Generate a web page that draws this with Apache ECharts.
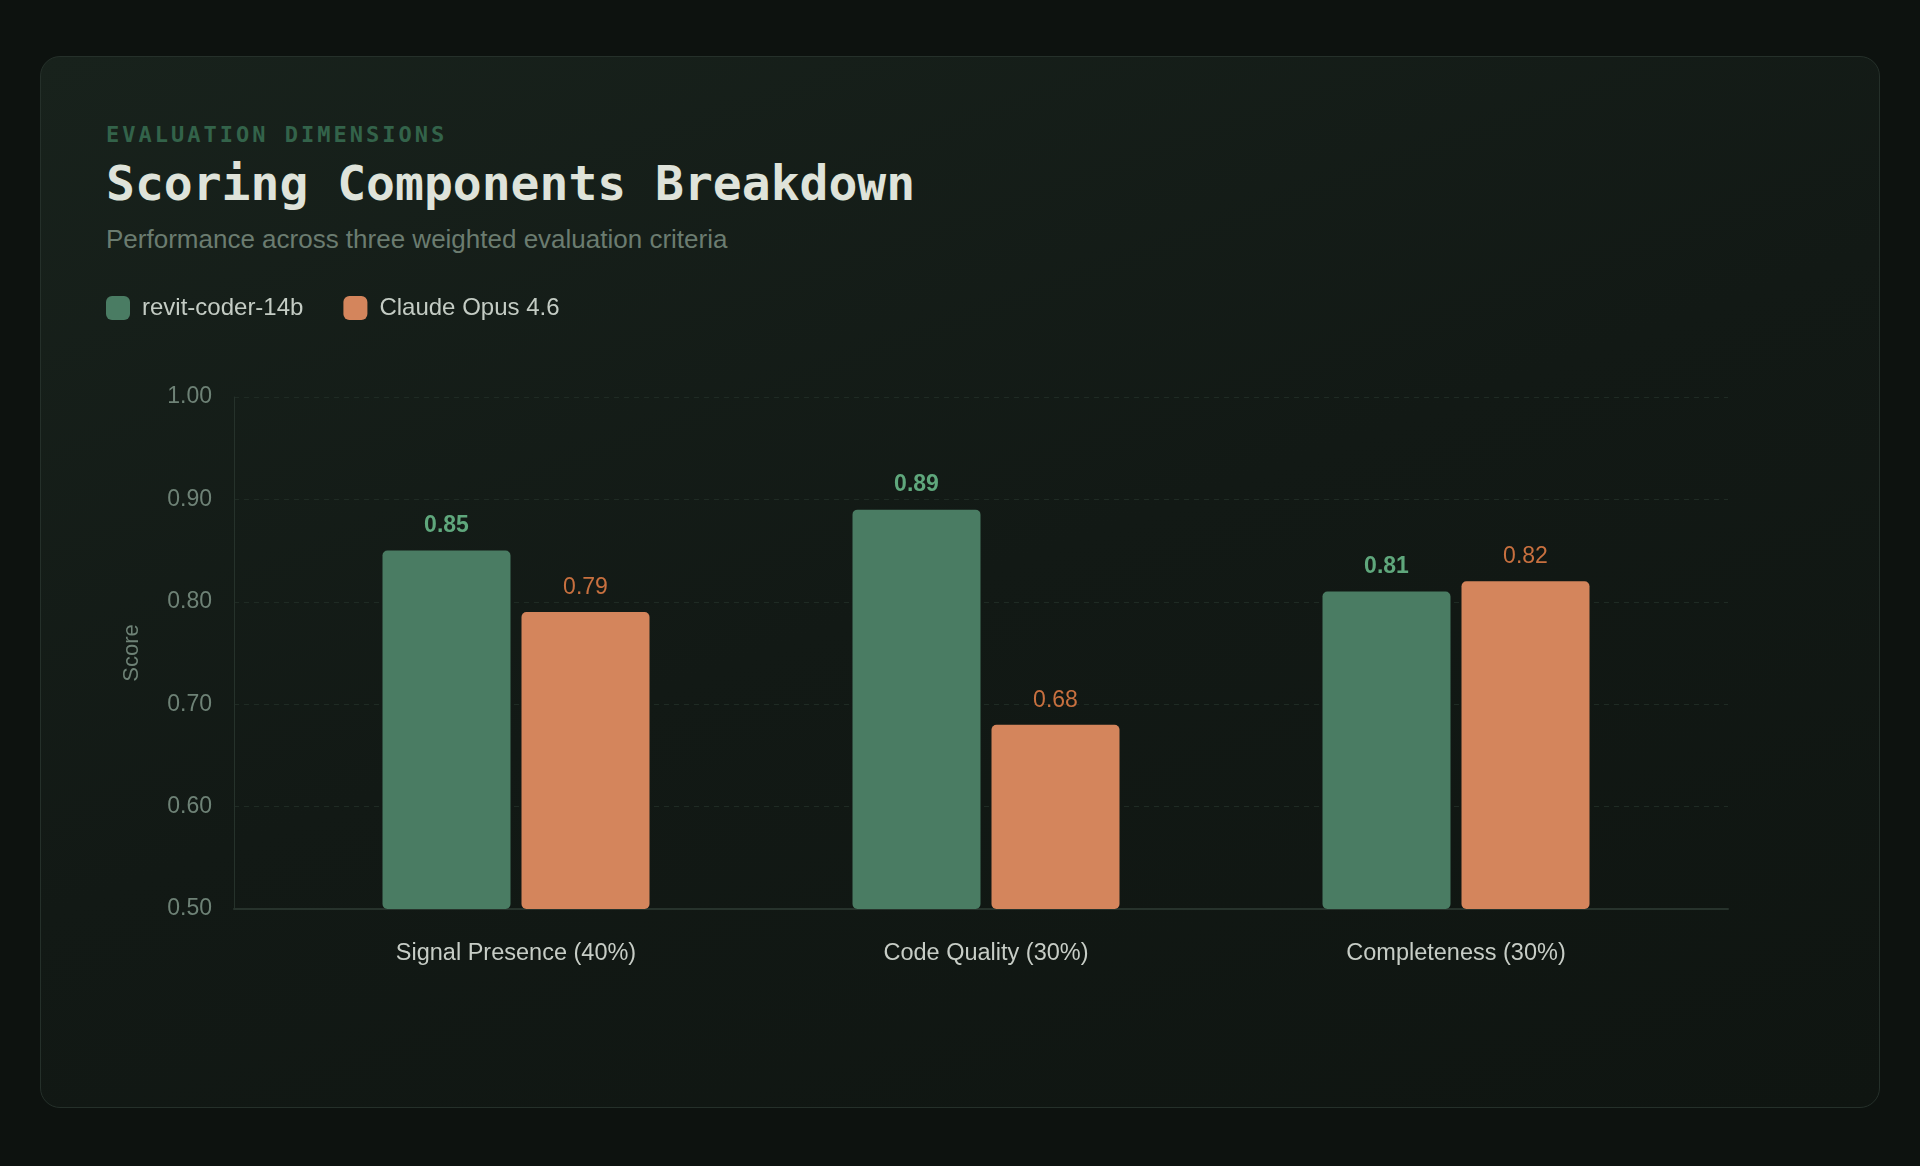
<!DOCTYPE html>
<html>
<head>
<meta charset="utf-8">
<title>Scoring Components Breakdown</title>
<script src="https://cdn.jsdelivr.net/npm/echarts@6.0.0/dist/echarts.min.js"></script>
<style>
  html, body {
    margin: 0;
    padding: 0;
    width: 1920px;
    height: 1166px;
    background: #0d120f;
    overflow: hidden;
  }
  .card {
    position: absolute;
    left: 40px;
    top: 56px;
    width: 1840px;
    height: 1052px;
    box-sizing: border-box;
    border: 1px solid #25302a;
    border-radius: 20px;
    background: linear-gradient(160deg, #18221c 0%, #121915 50%, #0f1511 100%);
  }
  .eyebrow, .title, .subtitle {
    position: absolute;
    left: 106px;
    margin: 0;
    line-height: 1;
    white-space: nowrap;
  }
  .eyebrow {
    top: 122px;
    font: bold 22px "DejaVu Sans Mono", monospace;
    letter-spacing: 3px;
    color: #33634a;
  }
  .title {
    top: 155px;
    font: bold 48px "DejaVu Sans Mono", monospace;
    color: #dfe3da;
  }
  .subtitle {
    top: 224px;
    font: 26px "Liberation Sans", Arial, sans-serif;
    color: #6b7c70;
  }
  #chart {
    position: absolute;
    left: 0;
    top: 0;
    width: 1920px;
    height: 1166px;
  }
</style>
</head>
<body>
<div class="card"></div>
<div class="eyebrow">EVALUATION DIMENSIONS</div>
<div class="title">Scoring Components Breakdown</div>
<div class="subtitle">Performance across three weighted evaluation criteria</div>
<div id="chart"></div>
<script>
// scores per evaluation dimension
var categories = ['Signal Presence (40%)', 'Code Quality (30%)', 'Completeness (30%)'];
var revitScores = [0.85, 0.89, 0.81];
var claudeScores = [0.79, 0.68, 0.82];
var seriesNames = ['revit-coder-14b', 'Claude Opus 4.6'];
var yMin = 0.5;
var yMax = 1.0;
var yStep = 0.1;

var green = '#4a7c63';
var orange = '#d4855c';
var sans = '"Liberation Sans", Arial, sans-serif';

var myChart = echarts.init(document.getElementById('chart'), null, { renderer: 'canvas' });
var option;

function fmt(p) {
  return p.value.toFixed(2);
}

option = {
  backgroundColor: 'transparent',
  textStyle: { fontFamily: sans },
  legend: {
    left: 106,
    top: 296,
    padding: 0,
    itemWidth: 24,
    itemHeight: 24,
    itemGap: 40,
    icon: 'roundRect',
    textStyle: {
      color: '#c4ccc4',
      fontSize: 24,
      fontFamily: sans,
      padding: [0, 0, 0, 7]
    },
    data: seriesNames
  },
  grid: [
    // frame: y axis, gridlines, bottom axis line
    { left: 234, right: 192, top: 397, bottom: 257 },
    // bars sit in a slightly narrower band
    { left: 281, right: 229, top: 397, bottom: 257 }
  ],
  xAxis: [
    {
      type: 'category',
      gridIndex: 0,
      data: categories,
      axisLine: { show: true, lineStyle: { color: '#27332c', width: 2 } },
      axisTick: { show: false },
      axisLabel: { show: false },
      splitLine: { show: false }
    },
    {
      type: 'category',
      gridIndex: 1,
      data: categories,
      axisLine: { show: false },
      axisTick: { show: false },
      axisLabel: {
        color: '#c7cdc6',
        fontSize: 23.5,
        fontFamily: sans,
        margin: 33
      }
    }
  ],
  yAxis: [
    {
      type: 'value',
      gridIndex: 0,
      min: yMin,
      max: yMax,
      interval: yStep,
      name: 'Score',
      nameLocation: 'middle',
      nameGap: 91,
      nameTextStyle: { color: '#6e8276', fontSize: 22, fontFamily: sans },
      axisLine: { show: true, lineStyle: { color: '#26322b', width: 1 } },
      axisTick: { show: false },
      axisLabel: {
        color: '#6e8276',
        fontSize: 23,
        fontFamily: sans,
        margin: 22,
        padding: [5, 0, 0, 0],
        formatter: function (v) { return v.toFixed(2); }
      },
      splitLine: {
        show: true,
        lineStyle: { color: '#1f2b24', type: [5, 5], width: 1 }
      }
    },
    {
      type: 'value',
      gridIndex: 1,
      min: yMin,
      max: yMax,
      interval: yStep,
      show: false,
      splitLine: { show: false }
    }
  ],
  series: [
    {
      name: seriesNames[0],
      type: 'bar',
      xAxisIndex: 1,
      yAxisIndex: 1,
      data: revitScores,
      barWidth: 128,
      barGap: '8.6%',
      itemStyle: { color: green, borderRadius: 5 },
      label: {
        show: true,
        position: 'top',
        distance: 13,
        color: '#5fa77c',
        fontSize: 23,
        fontWeight: 'bold',
        fontFamily: sans,
        formatter: fmt
      }
    },
    {
      name: seriesNames[1],
      type: 'bar',
      xAxisIndex: 1,
      yAxisIndex: 1,
      data: claudeScores,
      barWidth: 128,
      barGap: '8.6%',
      itemStyle: { color: orange, borderRadius: 5 },
      label: {
        show: true,
        position: 'top',
        distance: 13,
        color: '#c8703f',
        fontSize: 23,
        fontFamily: sans,
        formatter: fmt
      }
    }
  ]
};

option && myChart.setOption(option);
window.onresize = myChart.resize;
</script>
</body>
</html>
